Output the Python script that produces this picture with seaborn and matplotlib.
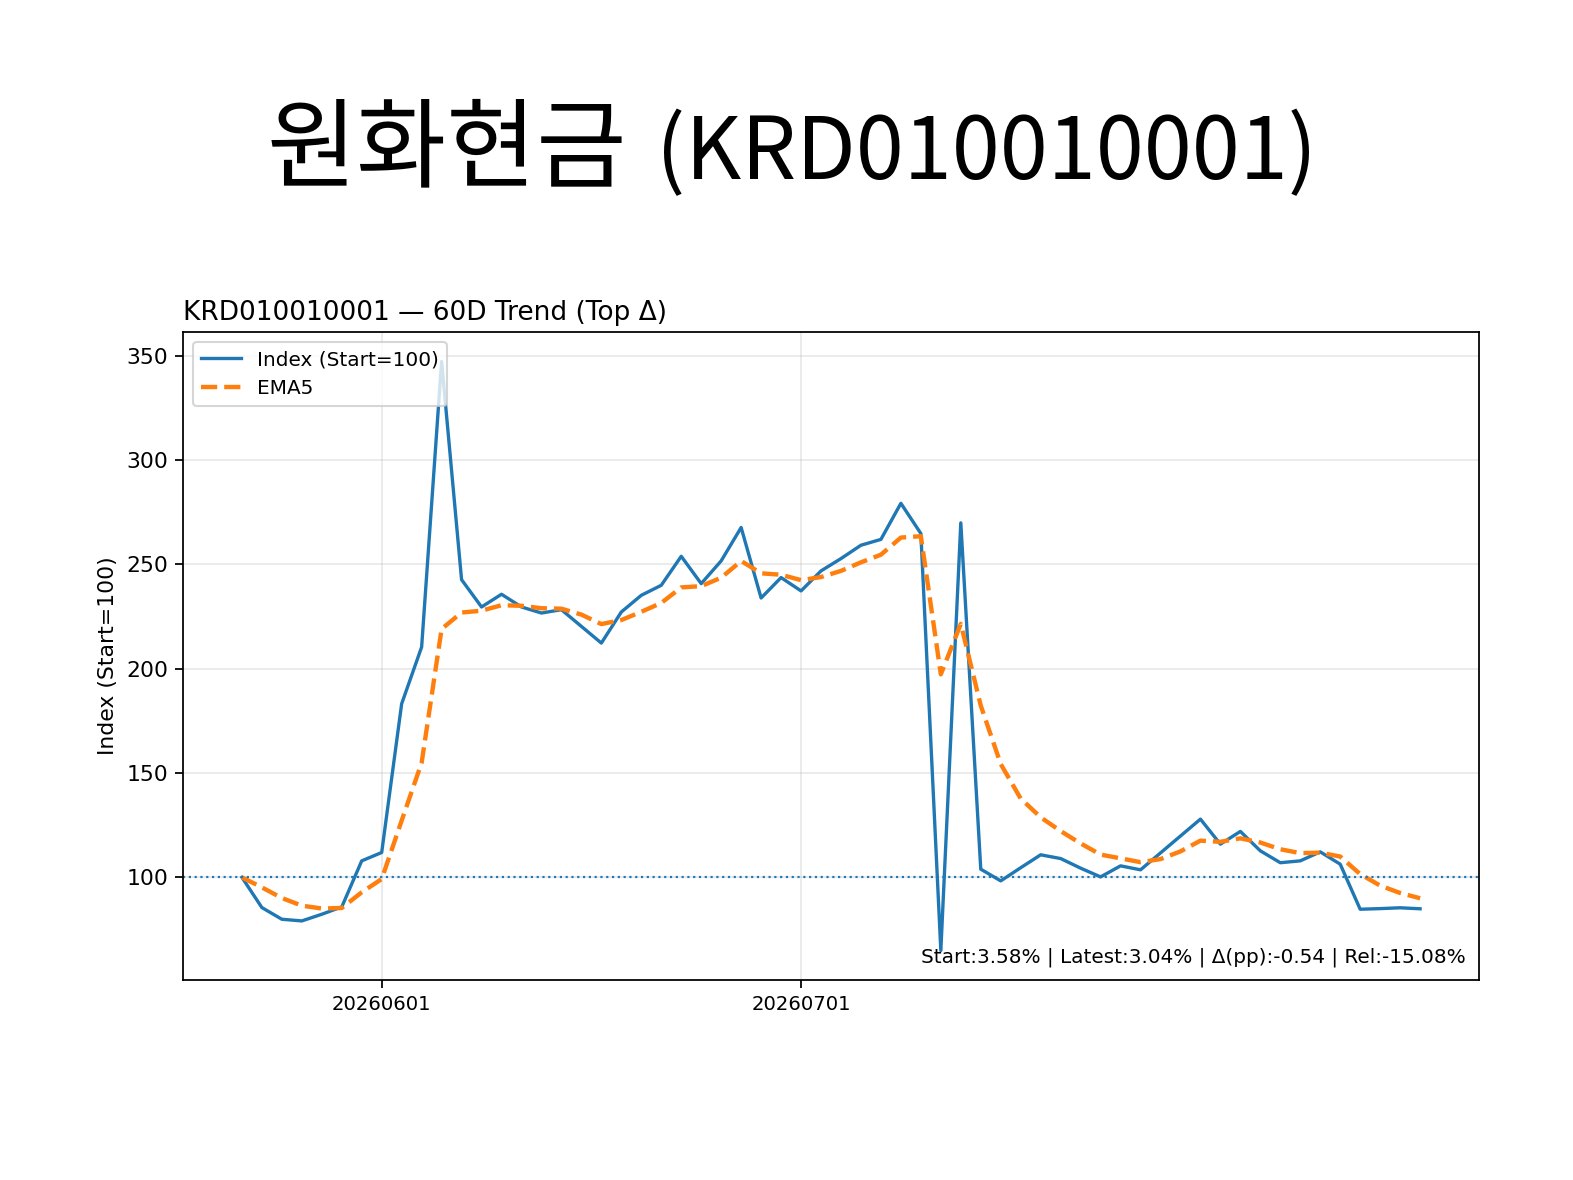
import numpy as np
import pandas as pd
import matplotlib
matplotlib.use("Agg")
import matplotlib.pyplot as plt
import seaborn as sns

# ---- data ----
index_values = [
    100.0, 85.5, 79.9, 79.1, 82.3, 85.8, 107.9, 111.9, 183.2, 210.4,
    347.3, 242.7, 229.6, 235.7, 229.6, 226.7, 228.3, 220.3, 212.3, 227.2,
    235.2, 240.0, 253.9, 240.8, 251.7, 267.7, 233.9, 243.7, 237.3, 246.9,
    252.8, 259.2, 262.0, 279.3, 264.8, 64.9, 269.9, 103.9, 98.3, 104.6,
    110.8, 109.0, 104.4, 100.2, 105.5, 103.6, 111.7, 119.8, 127.9, 115.9,
    122.0, 112.7, 107.0, 107.9, 112.2, 106.3, 84.7, 85.0, 85.4, 84.92,
]
tick_positions = [7, 28]
tick_labels = ["20260601", "20260701"]
title_korean = "원화현금"
title_code = "(KRD010010001)"
chart_title = "KRD010010001 — 60D Trend (Top Δ)"
stats_text = "Start:3.58% | Latest:3.04% | Δ(pp):-0.54 | Rel:-15.08%"
baseline = 100

df = pd.DataFrame({"step": np.arange(len(index_values)), "index": index_values})
df["ema5"] = df["index"].ewm(span=5, adjust=False).mean()

W, H = 1573, 1180
fig = plt.figure(figsize=(W / 150, H / 150), dpi=150)
ax = fig.add_axes([183 / W, 1 - 980 / H, (1479 - 183) / W, (980 - 332) / H])

sns.lineplot(data=df, x="step", y="index", ax=ax, color="C0", linewidth=1.6,
             label="Index (Start=100)")
sns.lineplot(data=df, x="step", y="ema5", ax=ax, color="C1", linewidth=2.1,
             linestyle="--", label="EMA5")
ax.axhline(baseline, linestyle=":", linewidth=1.05, color="C0")

ax.set_xticks(tick_positions)
ax.set_xticklabels(tick_labels)
ax.tick_params(axis="y", labelsize=10.5, width=0.85, length=3.7)
ax.tick_params(axis="x", labelsize=9.45, width=0.85, length=3.7)
for s in ax.spines.values():
    s.set_linewidth(0.85)
ax.set_xlabel("")
ax.set_ylabel("Index (Start=100)", fontsize=10.5)
ax.grid(True, alpha=0.3)
ax.set_title(chart_title, loc="left", fontsize=12.7)
ax.legend(loc="upper left", fontsize=9.6)
ax.text(0.99, 0.02, stats_text, transform=ax.transAxes, ha="right", va="bottom",
        fontsize=9.6)

cjk = ["Noto Sans CJK KR", "DejaVu Sans"]
fig.text(447 / W, 1 - 179 / H, title_korean, ha="center", va="baseline",
         fontsize=47, family=cjk)
fig.text(987 / W, 1 - 179 / H, title_code, ha="center", va="baseline",
         fontsize=41.5, family=cjk)

fig.savefig("out.png", dpi=150)
